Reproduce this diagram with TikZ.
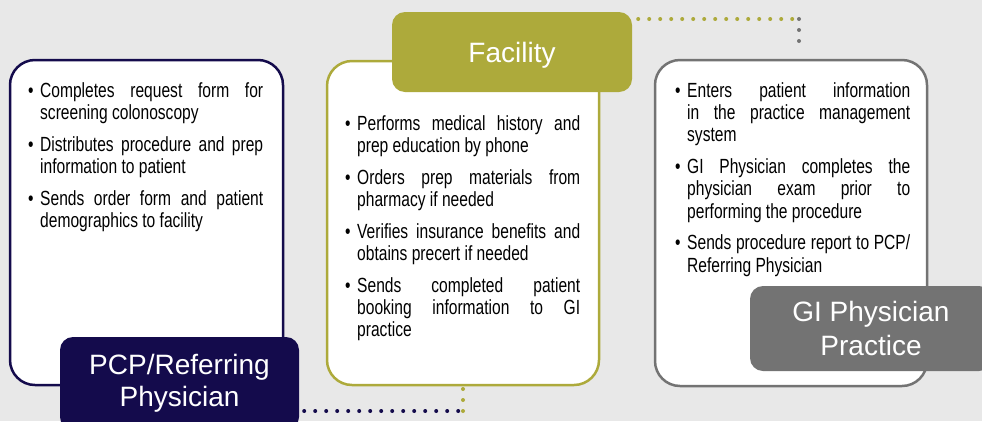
\documentclass[tikz,border=0pt]{standalone}
\usepackage{fontspec}
\setmainfont{Liberation Sans}
\newfontfamily\narrowfont{Liberation Sans}[FakeStretch=0.76]
\usepackage{xcolor}
\usepackage{tikz}
\usetikzlibrary{positioning}

\definecolor{pcpnavy}{HTML}{140B4C}
\definecolor{facolive}{HTML}{ADAA3B}
\definecolor{gigray}{HTML}{737373}
\definecolor{bggray}{HTML}{E8E8E8}

% one bullet point, hanging indent
\newcommand{\bitem}[1]{\noindent\hangindent=12pt\hangafter=1%
  \makebox[12pt][l]{\textbullet}#1\par\vspace{9.5pt}}

\begin{document}
\begin{tikzpicture}[x=1pt, y=-1pt,
    bodybox/.style={draw, line width=2.5pt, rounded corners=25pt, fill=white, inner sep=0pt},
    titlebox/.style={rounded corners=13pt, inner sep=0pt, text=white, align=center,
        font=\fontsize{28}{32}\selectfont},
    bullets/.style={anchor=north west, inner sep=0pt, text width=235pt, align=justify,
        font=\narrowfont\fontsize{20.5}{22.3}\selectfont},
    dotline/.style={line width=4pt, line cap=round, dash pattern=on 0pt off 11pt}]

    \fill[bggray] (0,0) rectangle (982,421);
    \useasboundingbox (0,0) rectangle (982,421);
    \clip (0,0) rectangle (982,421);

    % PCP / Referring Physician
    \node[bodybox, draw=pcpnavy, minimum width=273, minimum height=325] (pcpbody) at (146.5,222.5) {};
    \node[bullets] (pcplist) at (28,82) {%
        \bitem{Completes request form for\linebreak screening colonoscopy}%
        \bitem{Distributes procedure and prep\linebreak information to patient}%
        \bitem{Sends order form and patient\linebreak demographics to facility}};

    % Facility
    \node[bodybox, draw=facolive, minimum width=272, minimum height=324] (facbody) at (463,223) {};
    \node[bullets] (faclist) at (345,115) {%
        \bitem{Performs medical history and\linebreak prep education by phone}%
        \bitem{Orders prep materials from\linebreak pharmacy if needed}%
        \bitem{Verifies insurance benefits and\linebreak obtains precert if needed}%
        \bitem{Sends completed patient\linebreak booking information to GI\linebreak practice}};

    % GI Physician Practice
    \node[bodybox, draw=gigray, minimum width=272, minimum height=326] (gibody) at (791,223) {};
    \node[bullets] (gilist) at (675,82) {%
        \bitem{Enters patient information\linebreak in the practice management\linebreak system}%
        \bitem{GI Physician completes the\linebreak physician exam prior to\linebreak performing the procedure}%
        \bitem{Sends procedure report to PCP/\linebreak Referring Physician}};

    % titles
    \node[titlebox, fill=pcpnavy, minimum width=239, minimum height=93] (pcptitle) at (179.5,383.5) {PCP/Referring\\Physician};
    \node[titlebox, fill=facolive, minimum width=240, minimum height=80, text depth=0pt] (factitle) at (512,52) {Facility};
    \node[titlebox, fill=gigray, minimum width=242, minimum height=85] (gititle) at (871,328.5) {GI Physician\\[2pt]Practice};

    % dotted links
    \coordinate (navycorner) at (facbody.south |- 0,411);
    \coordinate (graycorner) at (799,19);
    \draw[dotline, pcpnavy] ([xshift=5pt]pcptitle.east |- navycorner) -- (navycorner);
    \draw[dotline, facolive] (navycorner) -- (facbody.south);
    \draw[dotline, facolive] ([xshift=6pt]factitle.east |- graycorner) -- (graycorner);
    \draw[dotline, gigray] (graycorner) -- ([yshift=8pt]gibody.north -| graycorner);
\end{tikzpicture}
\end{document}
